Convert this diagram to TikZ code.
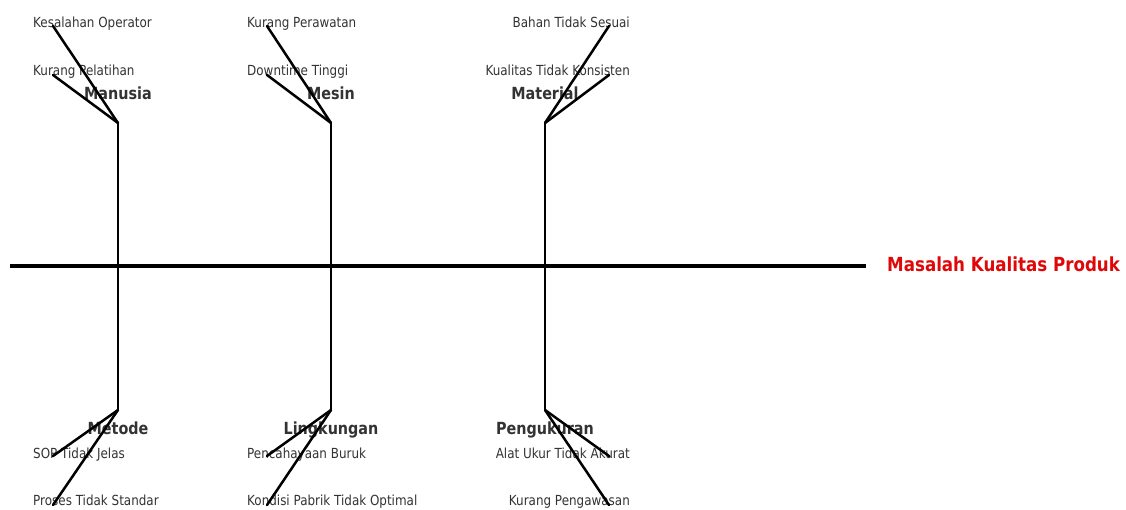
\documentclass[tikz,border=0pt]{standalone}
\usepackage{fontspec}
\setmainfont[FakeStretch=0.86]{DejaVu Sans}
\definecolor{txtgray}{RGB}{51,51,51}
\definecolor{headred}{RGB}{222,8,8}
\begin{document}
\begin{tikzpicture}[x=1pt,y=-1pt,
  cause/.style={font=\fontsize{13.9}{16}\selectfont, text=txtgray, inner sep=0pt},
  cat/.style={font=\fontsize{16.7}{19}\selectfont\bfseries, text=txtgray, inner sep=0pt, anchor=base},
  head/.style={font=\fontsize{19.4}{22}\selectfont\bfseries, text=headred, inner sep=0pt, anchor=base west},
  spine/.style={line width=3.4pt, black},
  bone/.style={line width=2.5pt, black, line cap=round, line join=round}]
\useasboundingbox (0,0) rectangle (1126,510);
% texts
\node[head] (head) at (887,272) {Masalah Kualitas Produk};
\node[cat] (manusia) at (118,100) {Manusia};
\node[cat] (mesin) at (331,100) {Mesin};
\node[cat] (material) at (545,100) {Material};
\node[cat] (metode) at (118,434) {Metode};
\node[cat] (lingkungan) at (331,434) {Lingkungan};
\node[cat] (pengukuran) at (545,434) {Pengukuran};
\node[cause, anchor=base west] (t1) at (33,28) {Kesalahan Operator};
\node[cause, anchor=base west] (t2) at (33,75.5) {Kurang Pelatihan};
\node[cause, anchor=base west] (t3) at (247,28) {Kurang Perawatan};
\node[cause, anchor=base west] (t4) at (247,75.5) {Downtime Tinggi};
\node[cause, anchor=base east] (t5) at (630,28) {Bahan Tidak Sesuai};
\node[cause, anchor=base east] (t6) at (630,75.5) {Kualitas Tidak Konsisten};
\node[cause, anchor=base west] (t7) at (33,458) {SOP Tidak Jelas};
\node[cause, anchor=base west] (t8) at (33,505.5) {Proses Tidak Standar};
\node[cause, anchor=base west] (t9) at (247,458) {Pencahayaan Buruk};
\node[cause, anchor=base west] (t10) at (247,505.5) {Kondisi Pabrik Tidak Optimal};
\node[cause, anchor=base east] (t11) at (630,458) {Alat Ukur Tidak Akurat};
\node[cause, anchor=base east] (t12) at (630,505.5) {Kurang Pengawasan};
% coordinates
\coordinate (s0) at (10,266);
\coordinate (s1) at (866,266);
\foreach \n/\x in {a/118,b/331,c/545}{
  \coordinate (\n top) at (\x,123);
  \coordinate (\n mid) at (\x,266);
  \coordinate (\n bot) at (\x,410);
}
\coordinate (e1) at (53,26);  \coordinate (e2) at (53,75);
\coordinate (e3) at (267,26); \coordinate (e4) at (267,75);
\coordinate (e5) at (609,26); \coordinate (e6) at (609,75);
\coordinate (e7) at (53,456); \coordinate (e8) at (53,505);
\coordinate (e9) at (267,456); \coordinate (e10) at (267,505);
\coordinate (e11) at (609,456); \coordinate (e12) at (609,505);
% lines
\draw[spine] (s0) -- (s1);
\draw[bone] (atop) -- (abot);
\draw[bone] (btop) -- (bbot);
\draw[bone] (ctop) -- (cbot);
\draw[bone] (atop) -- (e1); \draw[bone] (atop) -- (e2);
\draw[bone] (btop) -- (e3); \draw[bone] (btop) -- (e4);
\draw[bone] (ctop) -- (e5); \draw[bone] (ctop) -- (e6);
\draw[bone] (abot) -- (e7); \draw[bone] (abot) -- (e8);
\draw[bone] (bbot) -- (e9); \draw[bone] (bbot) -- (e10);
\draw[bone] (cbot) -- (e11); \draw[bone] (cbot) -- (e12);
\end{tikzpicture}
\end{document}
